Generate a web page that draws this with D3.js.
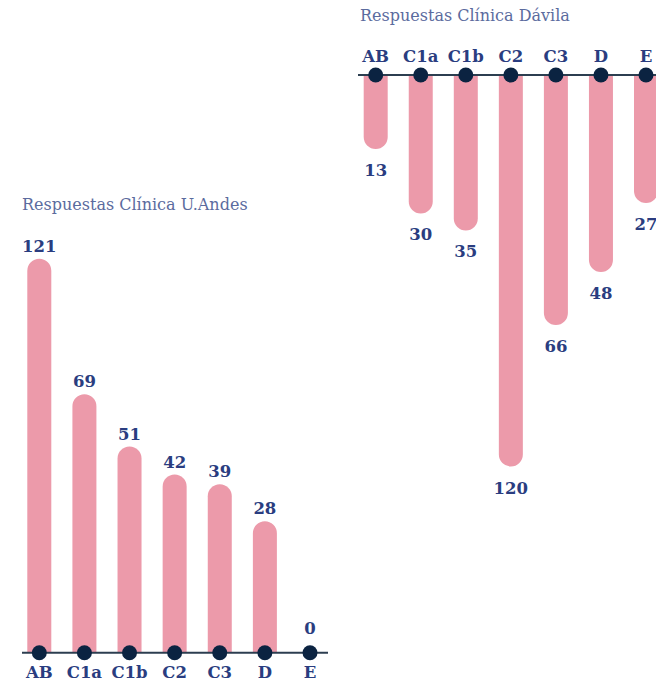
<!DOCTYPE html>
<html>
<head>
<meta charset="utf-8">
<script src="https://cdn.jsdelivr.net/npm/d3@7"></script>
<style>
  body { margin: 0; background: #fff; }
  svg { display: block; font-family: 'DejaVu Serif', serif; }
  .title { fill: #5b6b9e; font-size: 16px; }
  .value, .cat { fill: #2a3d80; font-size: 16.5px; font-weight: bold; }
</style>
</head>
<body>
<div id="chart"></div>
<script>
// Categories shared by both clinics
var categories = ['AB', 'C1a', 'C1b', 'C2', 'C3', 'D', 'E'];

// Responses per category
var andesValues = [121, 69, 51, 42, 39, 28, 0];
var davilaValues = [13, 30, 35, 120, 66, 48, 27];

var andesTitle = 'Respuestas Clínica U.Andes';
var davilaTitle = 'Respuestas Clínica Dávila';

var width = 656, height = 686;
var barWidth = 24;
var pink = '#ec9aaa';

var svg = d3.select('#chart').append('svg')
  .attr('width', width)
  .attr('height', height);

// Bar length scale, shared by both panels
var len = d3.scalePow().exponent(0.75)
  .domain([0, 121])
  .range([0, 394]);

// Bar with a rounded free end; dir = -1 grows up, +1 grows down
function barPath(cx, base, l, dir) {
  var r = barWidth / 2;
  if (l <= 0) { return ''; }
  var straight = Math.max(l - r, 0);
  var endY = base + dir * straight;
  var p = d3.path();
  p.moveTo(cx - r, base);
  p.lineTo(cx - r, endY);
  p.arc(cx, endY, r, Math.PI, 0, dir === -1 ? false : true);
  p.lineTo(cx + r, base);
  p.closePath();
  return p.toString();
}

function drawPanel(opts) {
  var data = categories.map(function(c, i) {
    return {cat: c, value: opts.values[i]};
  });
  var x = d3.scalePoint().domain(categories).range(opts.xRange);
  var g = svg.append('g');

  g.append('text')
    .attr('class', 'title')
    .attr('x', opts.titleX)
    .attr('y', opts.titleY)
    .text(opts.title);

  g.selectAll('path.bar')
    .data(data)
  .enter().append('path')
    .attr('class', 'bar')
    .attr('fill', pink)
    .attr('d', function(d) { return barPath(x(d.cat), opts.base, len(d.value), opts.dir); });

  g.append('line')
    .attr('x1', opts.lineX[0])
    .attr('x2', opts.lineX[1])
    .attr('y1', opts.base)
    .attr('y2', opts.base)
    .attr('stroke', '#2c3e50')
    .attr('stroke-width', 2);

  g.selectAll('circle')
    .data(data)
  .enter().append('circle')
    .attr('cx', function(d) { return x(d.cat); })
    .attr('cy', opts.base)
    .attr('r', 7.5)
    .attr('fill', '#0b2341');

  g.selectAll('text.value')
    .data(data)
  .enter().append('text')
    .attr('class', 'value')
    .attr('text-anchor', 'middle')
    .attr('x', function(d) { return x(d.cat); })
    .attr('y', function(d) {
      var l = Math.max(len(d.value), barWidth / 2);
      return opts.dir === -1 ? opts.base - l - 7 : opts.base + l + 27;
    })
    .text(function(d) { return d.value; });

  g.selectAll('text.cat')
    .data(data)
  .enter().append('text')
    .attr('class', 'cat')
    .attr('text-anchor', 'middle')
    .attr('x', function(d) { return x(d.cat); })
    .attr('y', opts.catY)
    .text(function(d) { return d.cat; });
}

drawPanel({
  values: andesValues, title: andesTitle,
  titleX: 22, titleY: 210,
  xRange: [39.3, 310], lineX: [22, 328],
  base: 652.7, dir: -1, catY: 678
});

drawPanel({
  values: davilaValues, title: davilaTitle,
  titleX: 360, titleY: 21,
  xRange: [375.7, 646], lineX: [358, 660],
  base: 75, dir: 1, catY: 62
});
</script>
</body>
</html>
